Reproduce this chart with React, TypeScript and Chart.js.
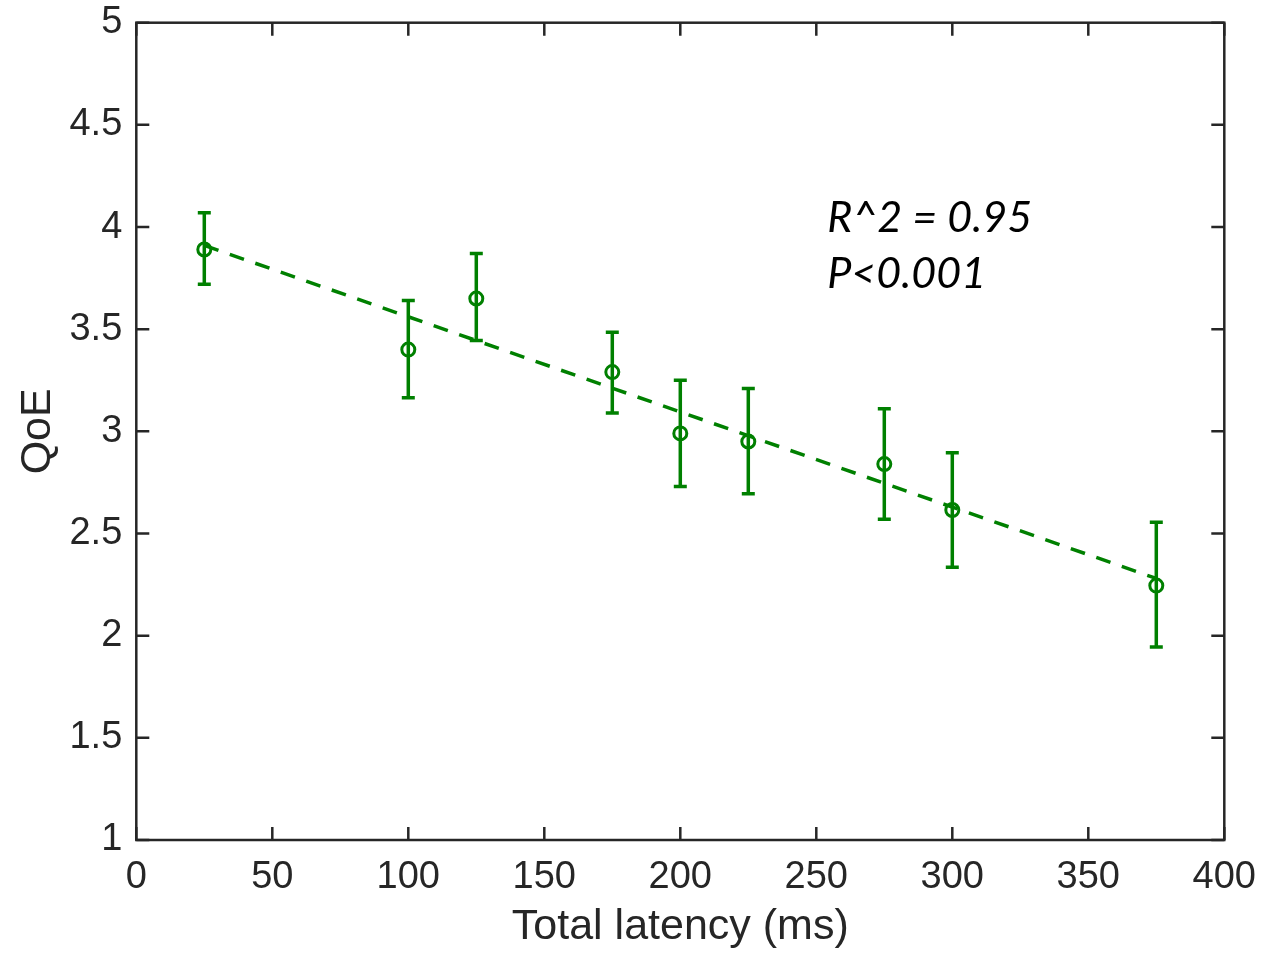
import React, { useEffect, useRef } from 'react';
import { Chart, registerables } from 'chart.js';

Chart.register(...registerables);

// ---- data ----
const latency = [25, 100, 125, 175, 200, 225, 275, 300, 375];
const qoeMean = [3.89, 3.40, 3.65, 3.29, 2.99, 2.95, 2.84, 2.615, 2.245];
const qoeUpper = [4.07, 3.64, 3.87, 3.485, 3.25, 3.21, 3.11, 2.895, 2.555];
const qoeLower = [3.72, 3.165, 3.445, 3.09, 2.73, 2.695, 2.57, 2.335, 1.945];
const fitLatency = [25, 375];
const fitQoe = [3.91, 2.28];
const xTickValues = [0, 50, 100, 150, 200, 250, 300, 350, 400];
const yTickValues = [1, 1.5, 2, 2.5, 3, 3.5, 4, 4.5, 5];
const annotationLines = ['R^2 = 0.95', 'P<0.001'];
const annotationX = [254, 254];
const annotationY = [3.977, 3.70];

const GREEN = '#008000';
const AXIS = '#262626';

const errorBarPlugin = {
  id: 'errorBars',
  beforeDatasetsDraw(chart: any) {
    const { ctx, scales } = chart;
    const xs = scales.x;
    const ys = scales.y;
    ctx.save();
    ctx.strokeStyle = GREEN;
    ctx.lineWidth = 3.5;
    const cap = 6.5;
    latency.forEach((lx, i) => {
      const px = xs.getPixelForValue(lx);
      const pTop = ys.getPixelForValue(qoeUpper[i]);
      const pBot = ys.getPixelForValue(qoeLower[i]);
      ctx.beginPath();
      ctx.moveTo(px, pTop);
      ctx.lineTo(px, pBot);
      ctx.moveTo(px - cap, pTop);
      ctx.lineTo(px + cap, pTop);
      ctx.moveTo(px - cap, pBot);
      ctx.lineTo(px + cap, pBot);
      ctx.stroke();
    });
    ctx.restore();
  },
};

const boxPlugin = {
  id: 'matlabBox',
  afterDatasetsDraw(chart: any) {
    const { ctx, chartArea, scales } = chart;
    const { left, right, top, bottom } = chartArea;
    const xs = scales.x;
    const ys = scales.y;
    const tl = 13;
    ctx.save();
    ctx.strokeStyle = AXIS;
    ctx.lineWidth = 2.5;
    ctx.lineCap = 'butt';
    ctx.beginPath();
    xs.ticks.forEach((t: any) => {
      const px = xs.getPixelForValue(t.value);
      ctx.moveTo(px, bottom);
      ctx.lineTo(px, bottom - tl);
      ctx.moveTo(px, top);
      ctx.lineTo(px, top + tl);
    });
    ys.ticks.forEach((t: any) => {
      const py = ys.getPixelForValue(t.value);
      ctx.moveTo(left, py);
      ctx.lineTo(left + tl, py);
      ctx.moveTo(right, py);
      ctx.lineTo(right - tl, py);
    });
    ctx.stroke();
    ctx.lineJoin = 'miter';
    ctx.strokeRect(left, top, right - left, bottom - top);

    // annotation text
    ctx.fillStyle = '#000000';
    ctx.font = 'italic 43px Lato';
    ctx.textAlign = 'left';
    ctx.textBaseline = 'alphabetic';
    annotationLines.forEach((txt, i) => {
      ctx.fillText(txt, xs.getPixelForValue(annotationX[i]), ys.getPixelForValue(annotationY[i]));
    });
    ctx.restore();
  },
};

const zeroPadding = (scale: any) => {
  scale.paddingTop = 0;
  scale.paddingBottom = 0;
  scale.paddingLeft = 0;
  scale.paddingRight = 0;
};

export default function App() {
  const canvasRef = useRef<HTMLCanvasElement | null>(null);

  useEffect(() => {
    if (!canvasRef.current) return;
    const chart = new Chart(canvasRef.current, {
      type: 'scatter',
      data: {
        datasets: [
          {
            type: 'line',
            label: 'fit',
            data: fitLatency.map((x, i) => ({ x, y: fitQoe[i] })),
            borderColor: GREEN,
            borderWidth: 3.5,
            borderDash: [15, 12],
            pointRadius: 0,
            fill: false,
            tension: 0,
          },
          {
            type: 'scatter',
            label: 'QoE',
            data: latency.map((x, i) => ({ x, y: qoeMean[i] })),
            borderColor: GREEN,
            backgroundColor: 'rgba(0,0,0,0)',
            pointRadius: 6.5,
            pointBorderWidth: 3,
            pointStyle: 'circle',
          },
        ],
      },
      options: {
        responsive: false,
        animation: false,
        events: [],
        layout: { padding: { top: 22.7, right: 38.7, bottom: 0, left: 0 } },
        plugins: {
          legend: { display: false },
          tooltip: { enabled: false },
        },
        scales: {
          x: {
            type: 'linear',
            min: 0,
            max: 400,
            afterBuildTicks: (scale: any) => {
              scale.ticks = xTickValues.map((v) => ({ value: v }));
            },
            afterFit: (scale: any) => {
              scale.height = 114;
              zeroPadding(scale);
            },
            grid: { display: false, drawTicks: false },
            border: { display: false },
            ticks: {
              padding: 15,
              color: AXIS,
              font: { family: 'Liberation Sans', size: 38 },
              maxRotation: 0,
              autoSkip: false,
              callback: (v: any) => String(v),
            },
            title: {
              display: true,
              text: 'Total latency (ms)',
              color: AXIS,
              font: { family: 'Liberation Sans', size: 43 },
              padding: { top: 0, bottom: 1 },
            },
          },
          y: {
            type: 'linear',
            min: 1,
            max: 5,
            afterBuildTicks: (scale: any) => {
              scale.ticks = yTickValues.map((v) => ({ value: v }));
            },
            afterFit: (scale: any) => {
              scale.width = 136.3;
              zeroPadding(scale);
            },
            grid: { display: false, drawTicks: false },
            border: { display: false },
            ticks: {
              padding: 14,
              color: AXIS,
              font: { family: 'Liberation Sans', size: 38 },
              autoSkip: false,
              callback: (v: any) => String(v),
            },
            title: {
              display: true,
              text: 'QoE',
              color: AXIS,
              font: { family: 'Liberation Sans', size: 43 },
              padding: { top: 12.5, bottom: 0 },
            },
          },
        },
      },
      plugins: [errorBarPlugin, boxPlugin],
    } as any);
    return () => chart.destroy();
  }, []);

  return (
    <div style={{ position: 'fixed', left: 0, top: 0, width: 1263, height: 954, background: '#ffffff' }}>
      <canvas ref={canvasRef} width={1263} height={954} style={{ display: 'block' }} />
    </div>
  );
}
